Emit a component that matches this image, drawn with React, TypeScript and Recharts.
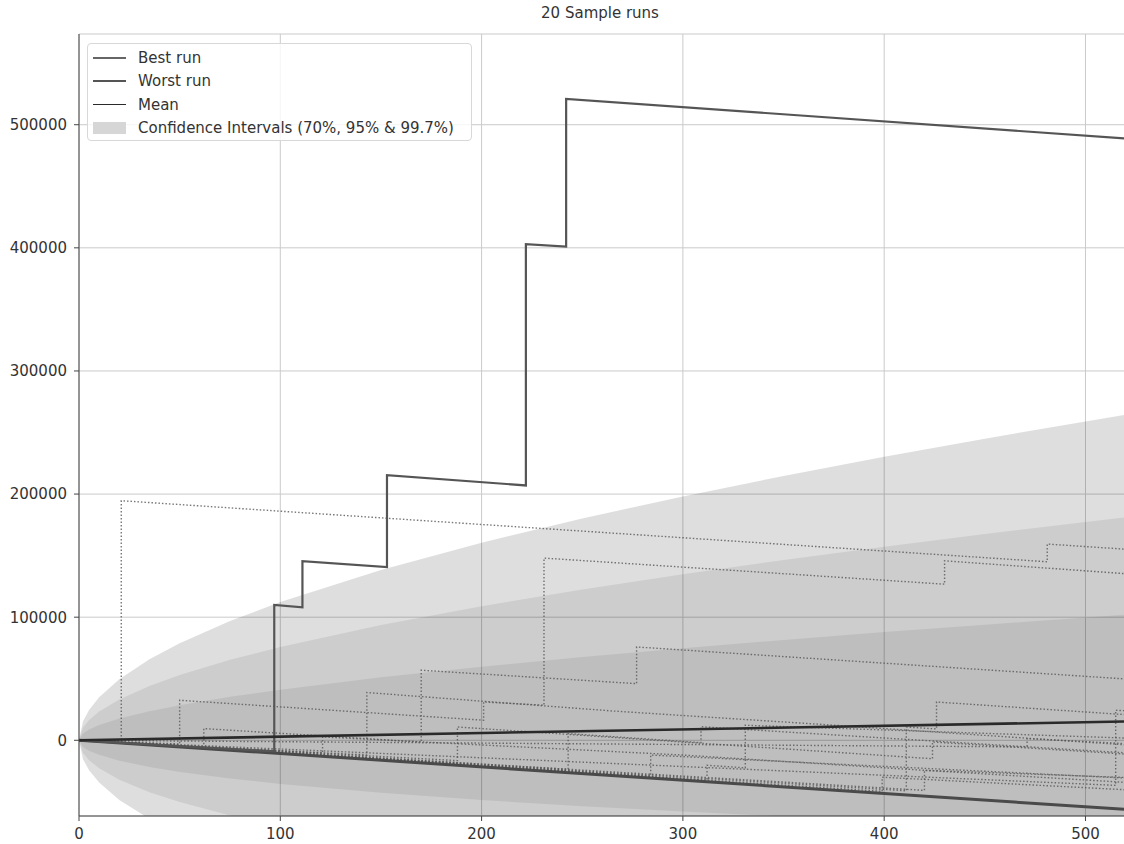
import {
  Area,
  CartesianGrid,
  ComposedChart,
  Line,
  XAxis,
  YAxis,
} from "recharts";

// confidence bands at a few hands
const HANDS = [0, 2, 5, 10, 20, 35, 50, 75, 100, 150, 200, 250, 300, 350, 400, 450, 500, 520];
const HI_997 = [0, 15540, 24620, 34910, 49530, 65770, 78840, 96950, 112320, 138330, 160500, 180180, 198120, 214720, 230280, 244970, 258950, 264360];
const LO_997 = [0, -15420, -24340, -34350, -48410, -63790, -76020, -92720, -106680, -129870, -149220, -166080, -181200, -194980, -207720, -219590, -230750, -235040];
const HI_95 = [0, 10380, 16460, 23360, 33210, 44180, 53030, 65340, 75820, 93630, 108880, 122470, 134900, 146440, 157280, 167540, 177340, 181130];
const LO_95 = [0, -10270, -16180, -22800, -32090, -42200, -50210, -61100, -70180, -85170, -97600, -108370, -117980, -126700, -134720, -142160, -149140, -151810];
const HI_70 = [0, 5480, 8700, 12390, 17690, 23650, 28490, 35290, 41120, 51140, 59800, 67610, 74800, 81520, 87880, 93940, 99740, 102000];
const LO_70 = [0, -5360, -8420, -11830, -16570, -21670, -25670, -31060, -35480, -42680, -48520, -53510, -57880, -61780, -65320, -68560, -71540, -72680];

const BEST_RUN = [[0, 0], [97, -9000], [97, 110000], [111, 108000], [111, 145500], [153, 140700], [153, 215400], [222, 207000], [222, 403000], [242, 401000], [242, 521000], [520, 488800]];
const WORST_RUN = [[0, 0], [520, -56200]];
const MEAN_RUN = [[0, 0], [520, 15300]];

const SAMPLE_RUNS = [
  [[0, 0], [21, -2300], [21, 194600], [481, 145000], [481, 159400], [520, 155200]],
  [[0, 0], [50, -3000], [50, 32500], [201, 16300], [201, 31100], [231, 28500], [231, 148000], [430, 126800], [430, 145800], [520, 135300]],
  [[0, 0], [143, -12000], [143, 38800], [265, 23800], [368, 13000], [520, -3700]],
  [[0, 0], [62, -6800], [62, 9500], [170, -1400], [170, 56900], [277, 46000], [277, 75800], [520, 49800]],
  [[0, 0], [121, -10500], [121, 2700], [300, -12000], [420, -24400], [520, -30200]],
  [[0, 0], [188, -16500], [188, 10800], [424, -15000], [424, -1400], [520, -11200]],
  [[0, 0], [243, -23500], [243, 5400], [309, -1900], [309, 11000], [520, -10200]],
  [[0, 0], [284, -29000], [284, -12000], [520, -30700]],
  [[0, 0], [312, -32500], [312, -20300], [331, -22400], [331, 12200], [520, 1800]],
  [[0, 0], [411, -41000], [411, 10800], [426, 9200], [426, 31100], [520, 20800]],
  [[0, 0], [399, -41500], [399, -30000], [520, -40200]],
  [[0, 0], [515, -36600], [515, 24400], [520, 24000]],
  [[0, 0], [420, -40700], [420, -24400], [520, -34200]],
  [[0, 0], [471, -5400], [471, 1400], [520, -2700]],
];

const X_TICKS = [0, 100, 200, 300, 400, 500];
const Y_TICKS = [0, 100000, 200000, 300000, 400000, 500000];

const LEGEND_ITEMS = [
  { label: "Best run", color: "#666", width: 2 },
  { label: "Worst run", color: "#555", width: 2.6 },
  { label: "Mean", color: "#2a2a2a", width: 1.8 },
  { label: "Confidence Intervals (70%, 95% & 99.7%)", color: "#d6d6d6", patch: true },
];

const FONT = "'DejaVu Sans', sans-serif";

const bands = HANDS.map((x, i) => ({
  x,
  b997: [LO_997[i], HI_997[i]],
  b95: [LO_95[i], HI_95[i]],
  b70: [LO_70[i], HI_70[i]],
}));

const toPoints = (run: number[][]) => run.map(([x, y]) => ({ x, y }));

function ChartLegend() {
  return (
    <div
      style={{
        position: "absolute",
        left: 87,
        top: 43,
        width: 383,
        height: 96,
        border: "1px solid #d8d8d8",
        borderRadius: 4,
        background: "rgba(255,255,255,0.8)",
        fontFamily: FONT,
        fontSize: 15,
        color: "#333",
      }}
    >
      {LEGEND_ITEMS.map((item, i) => (
        <div
          key={item.label}
          style={{
            position: "absolute",
            left: 5,
            top: 2 + i * 23.5,
            height: 23,
            display: "flex",
            alignItems: "center",
            whiteSpace: "nowrap",
          }}
        >
          {item.patch ? (
            <span style={{ display: "inline-block", width: 33, height: 12, background: item.color }} />
          ) : (
            <span style={{ display: "inline-block", width: 33, height: item.width, background: item.color }} />
          )}
          <span style={{ marginLeft: 12 }}>{item.label}</span>
        </div>
      ))}
    </div>
  );
}

export default function App() {
  return (
    <div
      style={{
        position: "absolute",
        left: 0,
        top: 0,
        width: 1124,
        height: 844,
        overflow: "hidden",
        background: "#fff",
      }}
    >
      <div
        style={{
          position: "absolute",
          top: 4,
          left: 0,
          width: 1200,
          textAlign: "center",
          fontFamily: FONT,
          fontSize: 15,
          color: "#333",
        }}
      >
        20 Sample runs
      </div>
      <ComposedChart
        width={1166}
        height={844}
        data={bands}
        margin={{ top: 34, right: 0, bottom: 0, left: 0 }}
      >
        <CartesianGrid stroke="#cacaca" strokeWidth={1} />
        <XAxis
          dataKey="x"
          type="number"
          domain={[0, 540]}
          ticks={X_TICKS}
          allowDataOverflow
          height={28}
          tickSize={5}
          tickMargin={7}
          stroke="#444"
          tick={{ fill: "#333", fontSize: 15, fontFamily: FONT }}
        />
        <XAxis
          xAxisId="top"
          orientation="top"
          type="number"
          domain={[0, 540]}
          tick={false}
          tickLine={false}
          height={0}
          stroke="#444"
        />
        <YAxis
          type="number"
          domain={[-61500, 573700]}
          ticks={Y_TICKS}
          allowDataOverflow
          width={79}
          tickSize={5}
          tickMargin={7}
          stroke="#444"
          tick={{ fill: "#333", fontSize: 15, fontFamily: FONT }}
        />
        <Area dataKey="b997" fill="#000" fillOpacity={0.13} stroke="none" isAnimationActive={false} />
        <Area dataKey="b95" fill="#000" fillOpacity={0.075} stroke="none" isAnimationActive={false} />
        <Area dataKey="b70" fill="#000" fillOpacity={0.07} stroke="none" isAnimationActive={false} />
        {SAMPLE_RUNS.map((run, i) => (
          <Line
            key={i}
            data={toPoints(run)}
            dataKey="y"
            type="linear"
            stroke="#555"
            strokeOpacity={0.8}
            strokeWidth={1.4}
            strokeDasharray="1.5 2"
            dot={false}
            isAnimationActive={false}
          />
        ))}
        <Line data={toPoints(WORST_RUN)} dataKey="y" type="linear" stroke="#4a4a4a" strokeWidth={3} dot={false} isAnimationActive={false} />
        <Line data={toPoints(BEST_RUN)} dataKey="y" type="linear" stroke="#555" strokeWidth={2.2} dot={false} isAnimationActive={false} />
        <Line data={toPoints(MEAN_RUN)} dataKey="y" type="linear" stroke="#2a2a2a" strokeWidth={2.6} dot={false} isAnimationActive={false} />
      </ComposedChart>
      <ChartLegend />
    </div>
  );
}
